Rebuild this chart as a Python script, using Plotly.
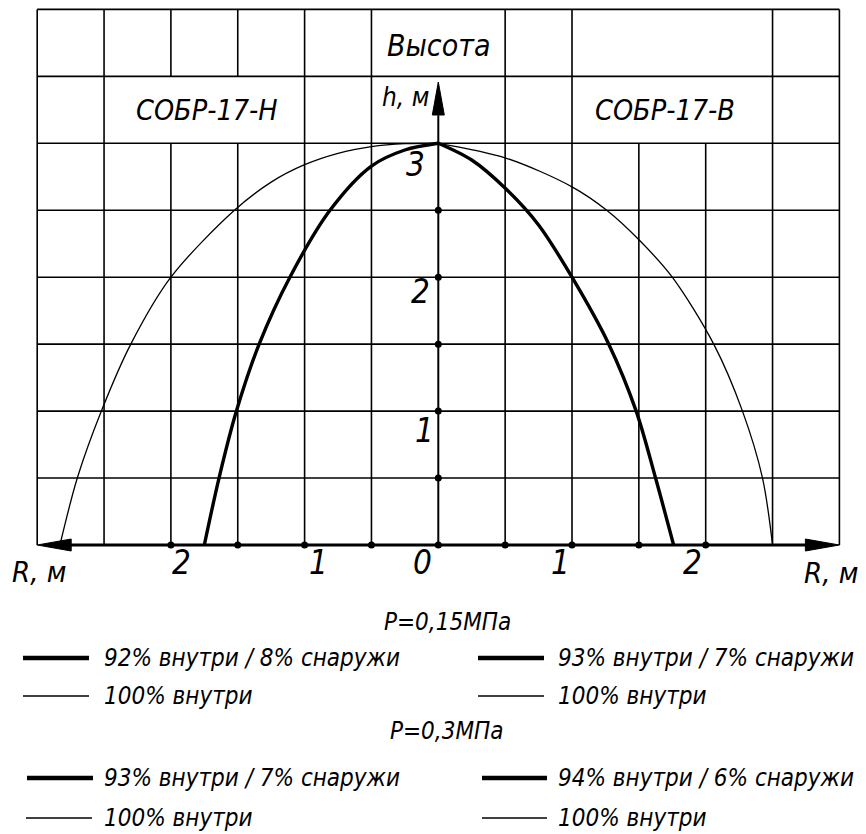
import plotly.graph_objects as go

# ---------------- data ----------------
# СОБР-17-Н (left side)
left_thick_R = [-1.75, -1.64, -1.51, -1.34, -1.11, -0.81, -0.5, -0.25, 0.0]
left_thick_h = [0.0, 0.5, 1.0, 1.5, 2.0, 2.5, 2.83, 2.95, 3.0]
left_thin_R = [-2.83, -2.70, -2.52, -2.30, -2.0, -1.525, -1.25, -1.0, -0.75, -0.5, -0.25, 0.0]
left_thin_h = [0.0, 0.5, 1.0, 1.5, 2.0, 2.5, 2.71, 2.84, 2.925, 2.975, 2.997, 3.0]
# СОБР-17-В (right side)
right_thick_R = [0.0, 0.25, 0.505, 0.75, 1.0, 1.275, 1.48, 1.625, 1.76]
right_thick_h = [3.0, 2.875, 2.66, 2.39, 2.0, 1.5, 1.0, 0.5, 0.0]
right_thin_R = [0.0, 0.505, 1.0, 1.26, 1.51, 1.75, 2.06, 2.275, 2.425, 2.5]
right_thin_h = [3.0, 2.89, 2.675, 2.5, 2.27, 2.0, 1.5, 1.0, 0.5, 0.0]

x_dot_ticks = [-2.0, -1.5, -1.0, -0.5, 0.0, 0.5, 1.0, 1.5, 2.0]
y_dot_ticks = [0.5, 1.0, 1.5, 2.0, 2.5]
x_tick_labels = ["2", "1", "0", "1", "2"]
x_tick_values = [-2, -1, 0, 1, 2]
y_tick_labels = ["1", "2", "3"]
y_tick_values = [1, 2, 3]

title_top = "Высота"
label_left = "СОБР-17-Н"
label_right = "СОБР-17-В"
axis_h = "h, м"
axis_R = "R, м"
group_titles = ["P=0,15МПа", "P=0,3МПа"]
legend_left = [["92% внутри / 8% снаружи", "100% внутри"],
               ["93% внутри / 7% снаружи", "100% внутри"]]
legend_right = [["93% внутри / 7% снаружи", "100% внутри"],
                ["94% внутри / 6% снаружи", "100% внутри"]]

# ---------------- layout constants ----------------
OFF = 8                    # page body margin
W, H = 866, 834
X0PX, SX = 438.3 - OFF, 133.7   # figure pixel of R=0, px per metre
Y0PX, SY = 545.0 - OFF, 133.9   # figure pixel of h=0, px per metre
xr = [-X0PX / SX, (W - X0PX) / SX]
yr = [(Y0PX - H) / SY, Y0PX / SY]

FONT = "DejaVu Sans Condensed, Liberation Sans Narrow, Roboto Condensed, Liberation Sans, sans-serif"
INK = "#000000"

fig = go.Figure()

for R, h, w in [(left_thin_R, left_thin_h, 1.3), (right_thin_R, right_thin_h, 1.3),
                (left_thick_R, left_thick_h, 3.4), (right_thick_R, right_thick_h, 3.4)]:
    fig.add_trace(go.Scatter(x=R, y=h, mode="lines", line=dict(color=INK, width=w, shape="spline", smoothing=0.9),
                             hoverinfo="skip", showlegend=False))

fig.add_trace(go.Scatter(x=x_dot_ticks, y=[0] * len(x_dot_ticks), mode="markers",
                         marker=dict(color=INK, size=7), showlegend=False, hoverinfo="skip"))
fig.add_trace(go.Scatter(x=[0] * len(y_dot_ticks), y=y_dot_ticks, mode="markers",
                         marker=dict(color=INK, size=7), showlegend=False, hoverinfo="skip"))

shapes = []
GW = 1.6


def vline(x, y0, y1, w=GW):
    shapes.append(dict(type="line", x0=x, x1=x, y0=y0, y1=y1, xref="x", yref="y",
                       line=dict(color=INK, width=w), layer="below"))


def hline(y, x0, x1, w=GW):
    shapes.append(dict(type="line", x0=x0, x1=x1, y0=y, y1=y, xref="x", yref="y",
                       line=dict(color=INK, width=w), layer="below"))


for k in range(1, 9):
    hline(0.5 * k, -3, 3)
for k in range(13):
    x = -3 + 0.5 * k
    if x in (-3, 3, -2.5, -1, -0.5, 0.5, 1, 2.5):
        vline(x, 0, 4)
    elif x in (-2, -1.5):
        vline(x, 0, 3)
        vline(x, 3.5, 4)
    elif x == 0:
        vline(x, 0, 3.21, 2.0)
    else:
        vline(x, 0, 3)

hline(0, -3 + 0.2, 3 - 0.2, 3.0)
AL = 34 / SX
AW = 6 / SY
shapes.append(dict(type="path", xref="x", yref="y", fillcolor=INK, line=dict(color=INK, width=1),
                   path=f"M -3 0 L {-3 + AL} {AW} L {-3 + AL} {-AW} Z"))
shapes.append(dict(type="path", xref="x", yref="y", fillcolor=INK, line=dict(color=INK, width=1),
                   path=f"M 3 0 L {3 - AL} {AW} L {3 - AL} {-AW} Z"))
YT = 463 / SY
YB = 430 / SY
AWX = 6 / SX
shapes.append(dict(type="path", xref="x", yref="y", fillcolor=INK, line=dict(color=INK, width=1),
                   path=f"M 0 {YT} L {AWX} {YB} L {-AWX} {YB} Z"))


# helpers: reference-page pixel -> data
def px2x(px):
    return (px - OFF - X0PX) / SX


def px2y(py):
    return (Y0PX - (py - OFF)) / SY


annotations = []


def text(s, x, y, size, xanchor="center"):
    annotations.append(dict(text=s, x=x, y=y, xref="x", yref="y", showarrow=False,
                            xanchor=xanchor, yanchor="middle", borderpad=0,
                            font=dict(family=FONT, size=size, color=INK, style="italic")))


text(title_top, 0, px2y(45), 30)
text(label_left, px2x(207), px2y(110), 28.5)
text(label_right, px2x(665), px2y(110), 28.5)
text(axis_h, px2x(430), px2y(97), 26, xanchor="right")
text(axis_R, px2x(39), px2y(572), 29)
text(axis_R, px2x(859), px2y(573), 29, xanchor="right")

x_offsets = {-2: 11, -1: 14, 0: -16, 1: -12, 2: -13}
for v, lab in zip(x_tick_values, x_tick_labels):
    text(lab, v + x_offsets[v] / SX, px2y(562), 33)
y_pos = {1: (424, 430), 2: (420, 291), 3: (415, 164)}
for v, lab in zip(y_tick_values, y_tick_labels):
    px, py = y_pos[v]
    text(lab, px2x(px), px2y(py), 33)

title_y = [622, 731]
row_y = [[658, 696], [778, 818]]
left_line = [[(23, 89), (23, 89)], [(27, 93), (26, 92)]]
right_line = [[(478, 544), (478, 544)], [(482, 547), (482, 547)]]
for g in range(2):
    text(group_titles[g], px2x(447), px2y(title_y[g]), 24)
    for r in range(2):
        w = 4.5 if r == 0 else 1.3
        yy = px2y(row_y[g][r])
        for (a, b), lab, tx in [(left_line[g][r], legend_left[g][r], 103),
                                (right_line[g][r], legend_right[g][r], 557)]:
            shapes.append(dict(type="line", xref="x", yref="y", x0=px2x(a), x1=px2x(b), y0=yy, y1=yy,
                               line=dict(color=INK, width=w)))
            text(lab, px2x(tx), yy, 24, xanchor="left")

fig.update_layout(
    width=W, height=H,
    margin=dict(l=0, r=0, t=0, b=0, pad=0),
    paper_bgcolor="white", plot_bgcolor="white",
    xaxis=dict(range=xr, visible=False, fixedrange=True),
    yaxis=dict(range=yr, visible=False, fixedrange=True),
    shapes=shapes, annotations=annotations, showlegend=False,
)

fig.write_html("out.html")
